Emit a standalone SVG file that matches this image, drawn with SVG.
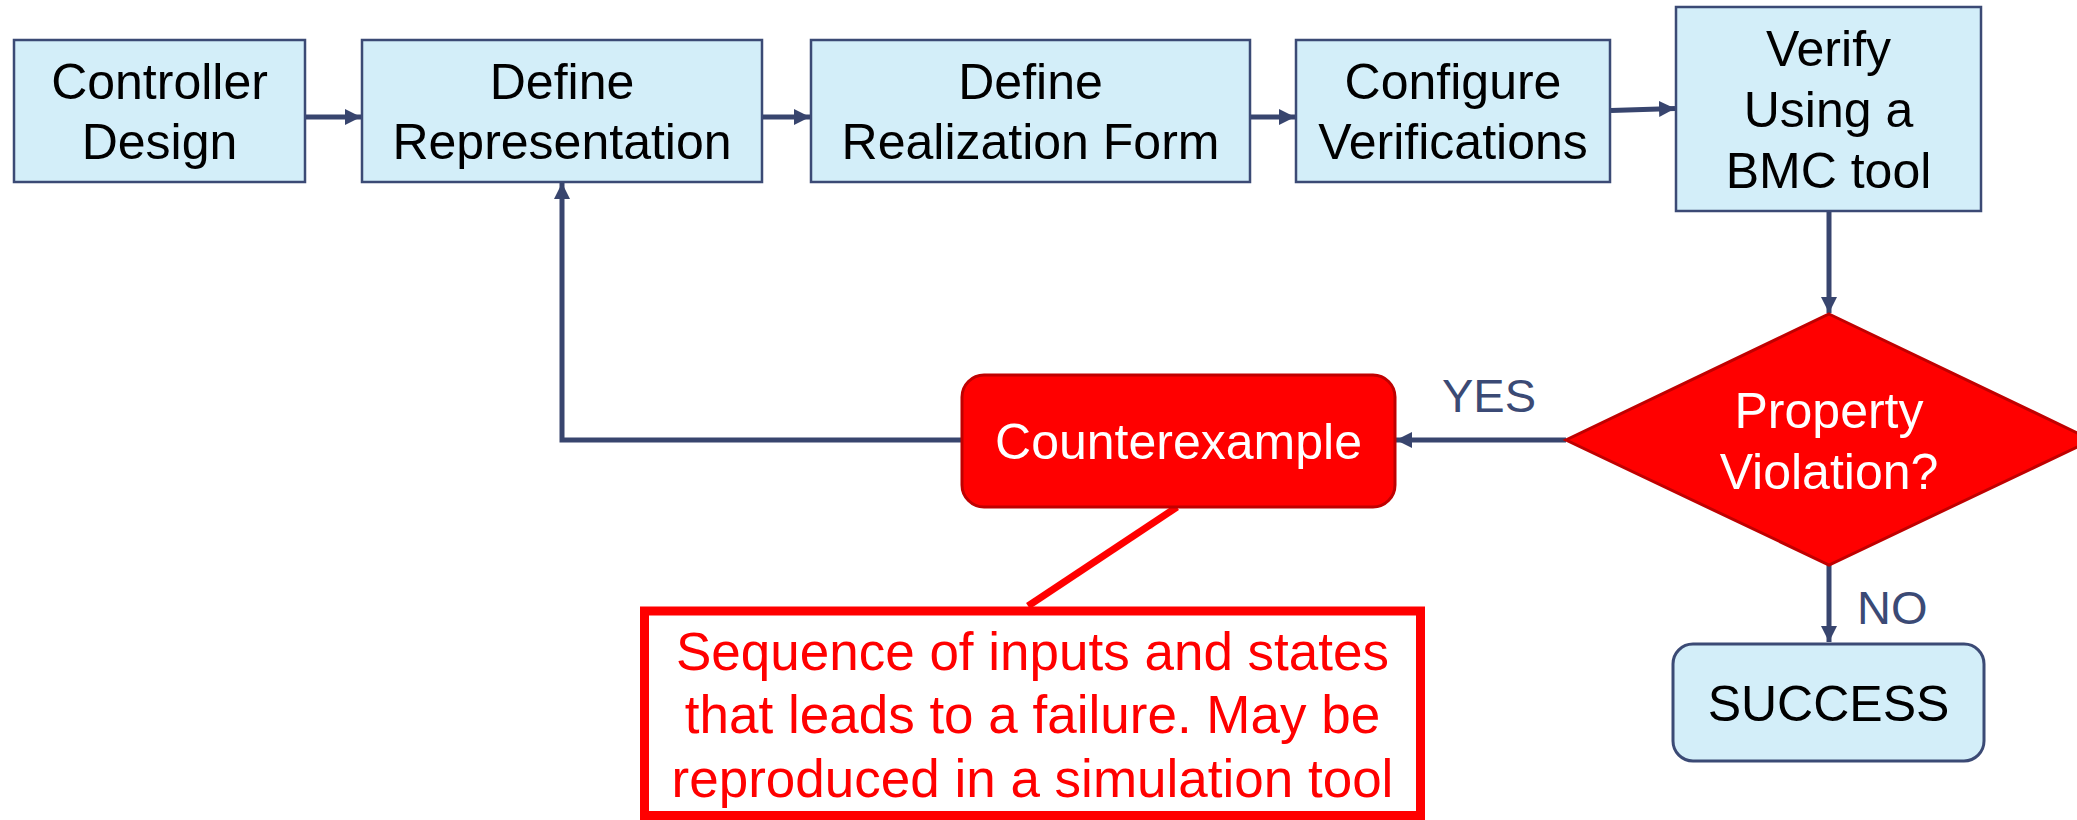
<svg xmlns="http://www.w3.org/2000/svg" width="2077" height="820" viewBox="0 0 2077 820">
<style>
.box{fill:#D3EEF9;stroke:#3B4A75;stroke-width:2.5}
.red{fill:#FF0000;stroke:#C00000;stroke-width:3}
.t{font-family:"Liberation Sans",Arial,sans-serif;font-size:50px;fill:#000;text-anchor:middle}
.w{fill:#FFFFFF}
.lbl{font-family:"Liberation Sans",Arial,sans-serif;font-size:47px;fill:#3B4A75}
.conn{fill:none;stroke:#38456E;stroke-width:5}
.ct{font-family:"Liberation Sans",Arial,sans-serif;font-size:53px;fill:#FF0000;text-anchor:middle}
</style>
<defs>
<marker id="ah" markerUnits="userSpaceOnUse" markerWidth="18" markerHeight="18" refX="16" refY="8" orient="auto">
<path d="M0,0 L16,8 L0,16 z" fill="#38456E"/>
</marker>
</defs>
<rect width="2077" height="820" fill="#FFFFFF"/>
<g id="connectors">
<line class="conn" x1="305" y1="117" x2="361" y2="117" marker-end="url(#ah)"/>
<line class="conn" x1="762" y1="117" x2="810" y2="117" marker-end="url(#ah)"/>
<line class="conn" x1="1250" y1="117" x2="1295" y2="117" marker-end="url(#ah)"/>
<line class="conn" x1="1611" y1="110.5" x2="1675" y2="108.5" marker-end="url(#ah)"/>
<line class="conn" x1="1829" y1="211" x2="1829" y2="313" marker-end="url(#ah)"/>
<line class="conn" x1="1566" y1="440" x2="1396" y2="440" marker-end="url(#ah)"/>
<polyline class="conn" points="962,440 562,440 562,183" marker-end="url(#ah)"/>
<line class="conn" x1="1829" y1="565" x2="1829" y2="642" marker-end="url(#ah)"/>
<line x1="1177" y1="507" x2="1028" y2="606" stroke="#FF0000" stroke-width="7"/>
<text class="lbl" x="1442" y="412">YES</text>
<text class="lbl" x="1857" y="624">NO</text>
</g>
<g id="controller-design">
<rect class="box" x="14" y="40" width="291" height="142"/>
<text class="t" x="159.5" y="99">Controller</text>
<text class="t" x="159.5" y="159">Design</text>
</g>
<g id="define-representation">
<rect class="box" x="362" y="40" width="400" height="142"/>
<text class="t" x="562" y="99">Define</text>
<text class="t" x="562" y="159">Representation</text>
</g>
<g id="define-realization">
<rect class="box" x="811" y="40" width="439" height="142"/>
<text class="t" x="1030.5" y="99">Define</text>
<text class="t" x="1030.5" y="159">Realization Form</text>
</g>
<g id="configure-verifications">
<rect class="box" x="1296" y="40" width="314" height="142"/>
<text class="t" x="1453" y="99">Configure</text>
<text class="t" x="1453" y="159">Verifications</text>
</g>
<g id="verify-bmc">
<rect class="box" x="1676" y="7" width="305" height="204"/>
<text class="t" x="1828.5" y="66">Verify</text>
<text class="t" x="1828.5" y="127">Using a</text>
<text class="t" x="1828.5" y="188">BMC tool</text>
</g>
<g id="property-violation">
<polygon class="red" points="1829,314 2092,440 1829,565 1566,440"/>
<text class="t w" x="1829" y="428">Property</text>
<text class="t w" x="1829" y="489">Violation?</text>
</g>
<g id="counterexample">
<rect class="red" x="962" y="375" width="433" height="132" rx="22" ry="22"/>
<text class="t w" x="1178.5" y="459">Counterexample</text>
</g>
<g id="success">
<rect class="box" x="1673" y="644" width="311" height="117" rx="20" ry="20" style="stroke-width:3"/>
<text class="t" x="1828.5" y="721">SUCCESS</text>
</g>
<g id="callout">
<rect x="644.5" y="611" width="776" height="204.5" fill="#FFFFFF" stroke="#FF0000" stroke-width="9"/>
<text class="ct" x="1032.5" y="670">Sequence of inputs and states</text>
<text class="ct" x="1032.5" y="733">that leads to a failure. May be</text>
<text class="ct" x="1032.5" y="797">reproduced in a simulation tool</text>
</g>
</svg>
